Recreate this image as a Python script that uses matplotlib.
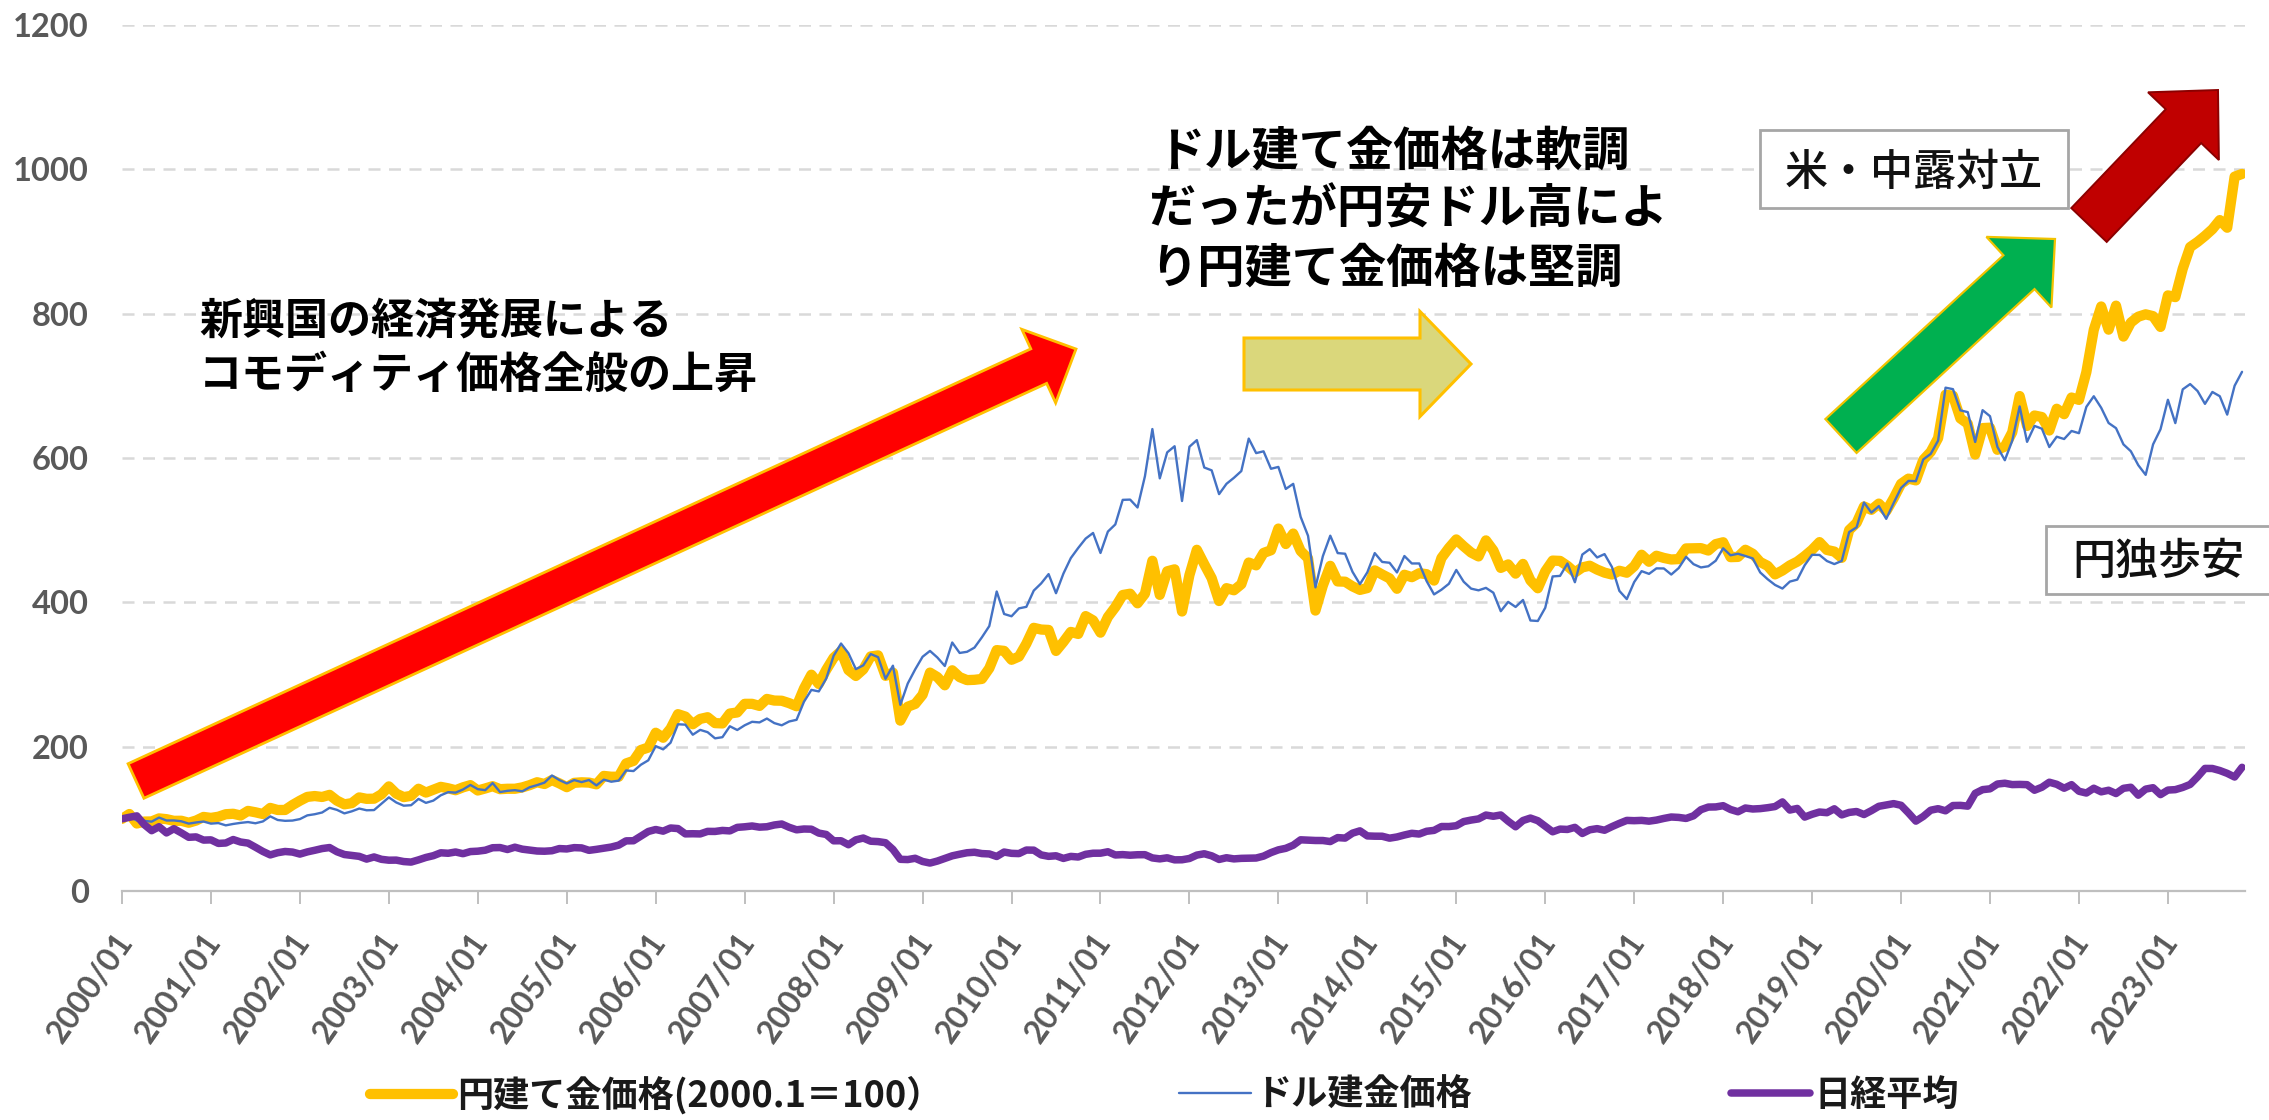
import numpy as np
import matplotlib
matplotlib.use("Agg")
import matplotlib.pyplot as plt
from matplotlib.patches import FancyArrow, Rectangle
from matplotlib.transforms import ScaledTranslation

plt.rcParams['font.family'] = ['Noto Sans CJK JP', 'DejaVu Sans']

# ---------------- data (monthly, 2000/01 - 2023/11) ----------------
# gold, USD/oz, month-end
gold_usd = [
    283.3, 293.7, 276.8, 275.1, 272.3, 288.2, 276.8, 277.0, 273.7, 264.5, 269.1, 272.7,   # 2000
    264.5, 266.7, 257.7, 263.2, 267.5, 270.6, 265.9, 273.0, 293.1, 278.8, 275.5, 276.5,   # 2001
    282.3, 296.9, 301.4, 308.2, 326.6, 318.5, 304.7, 312.8, 323.7, 316.9, 317.7, 342.8,   # 2002
    367.5, 347.5, 334.9, 336.8, 361.4, 346.0, 354.8, 375.6, 388.0, 386.3, 398.4, 416.3,   # 2003
    399.8, 395.9, 423.7, 388.5, 393.3, 395.8, 391.4, 407.3, 415.7, 425.6, 453.4, 435.6,   # 2004
    422.2, 435.5, 427.5, 435.7, 414.5, 437.1, 429.0, 433.3, 473.3, 470.8, 495.7, 513.0,   # 2005
    568.8, 556.0, 582.0, 654.5, 653.0, 613.5, 632.5, 623.5, 599.3, 603.8, 646.7, 632.0,   # 2006
    650.5, 664.2, 661.8, 677.0, 659.1, 650.5, 665.5, 672.0, 743.0, 789.5, 783.5, 833.8,   # 2007
    923.3, 971.5, 933.5, 871.0, 885.8, 930.3, 918.0, 833.0, 884.5, 730.8, 814.5, 869.8,   # 2008
    919.5, 942.5, 916.5, 883.3, 975.5, 934.5, 939.0, 955.5, 995.8, 1040.0, 1175.8, 1087.5,  # 2009
    1078.5, 1109.5, 1115.5, 1179.3, 1207.5, 1244.0, 1169.0, 1246.0, 1307.0, 1346.8, 1383.5, 1405.5,  # 2010
    1327.0, 1411.0, 1439.0, 1535.5, 1536.5, 1505.5, 1628.5, 1813.5, 1620.0, 1722.0, 1746.0, 1531.0,  # 2011
    1744.0, 1770.0, 1662.5, 1651.3, 1558.0, 1598.5, 1622.0, 1648.5, 1776.0, 1719.0, 1726.0, 1657.5,  # 2012
    1664.8, 1578.3, 1598.3, 1469.0, 1394.5, 1192.0, 1314.5, 1394.8, 1326.5, 1324.0, 1253.0, 1204.5,  # 2013
    1251.0, 1326.5, 1291.8, 1288.5, 1250.5, 1315.0, 1285.8, 1285.8, 1216.5, 1164.3, 1182.8, 1206.0,  # 2014
    1260.3, 1214.0, 1187.0, 1180.3, 1190.0, 1171.0, 1098.4, 1135.0, 1115.0, 1142.4, 1061.9, 1060.0,  # 2015
    1111.8, 1234.9, 1237.0, 1285.7, 1212.1, 1320.8, 1342.0, 1309.3, 1322.5, 1272.0, 1178.1, 1145.9,  # 2016
    1212.8, 1255.6, 1244.9, 1266.5, 1266.2, 1242.3, 1267.6, 1311.8, 1283.1, 1270.2, 1274.8, 1296.5,  # 2017
    1345.2, 1317.9, 1323.9, 1315.1, 1305.4, 1250.5, 1224.0, 1201.5, 1187.3, 1214.7, 1222.3, 1279.0,  # 2018
    1319.8, 1319.2, 1295.4, 1283.4, 1295.8, 1409.0, 1427.6, 1525.1, 1485.3, 1510.9, 1460.9, 1523.0,  # 2019
    1582.1, 1609.9, 1608.9, 1694.1, 1715.9, 1768.1, 1975.9, 1970.1, 1886.9, 1879.9, 1762.8, 1887.6,  # 2020
    1863.9, 1743.4, 1691.1, 1767.7, 1902.1, 1763.2, 1825.8, 1814.9, 1742.8, 1783.4, 1774.3, 1805.9,  # 2021
    1797.2, 1900.7, 1942.2, 1896.9, 1837.2, 1817.0, 1753.3, 1726.3, 1671.8, 1633.6, 1753.3, 1812.4,  # 2022
    1928.4, 1836.7, 1969.3, 1990.0, 1962.7, 1912.3, 1959.0, 1942.3, 1870.1, 1983.5, 2038.1,          # 2023
]

# USD/JPY, month-end
usdjpy = [
    107.3, 110.4, 102.7, 106.3, 107.6, 106.1, 109.3, 106.7, 108.1, 108.7, 110.3, 114.4,   # 2000
    116.4, 117.3, 125.5, 123.6, 118.9, 124.7, 124.7, 118.8, 119.4, 122.4, 123.9, 131.0,   # 2001
    134.7, 133.5, 132.7, 128.5, 124.0, 119.5, 119.8, 118.3, 121.8, 122.5, 122.4, 118.8,   # 2002
    119.9, 118.0, 118.1, 119.0, 119.2, 119.8, 120.3, 116.8, 111.5, 109.9, 109.6, 107.1,   # 2003
    105.9, 109.1, 104.2, 110.4, 109.5, 108.8, 111.5, 109.5, 110.2, 105.9, 103.1, 104.1,   # 2004
    103.6, 104.6, 107.1, 104.8, 108.4, 110.9, 112.2, 111.1, 113.5, 116.4, 119.8, 117.8,   # 2005
    117.2, 116.1, 117.5, 113.8, 112.5, 114.5, 114.6, 117.4, 118.0, 116.9, 115.6, 119.0,   # 2006
    121.2, 118.7, 117.8, 119.5, 121.7, 123.2, 118.9, 115.8, 114.8, 115.4, 111.3, 111.7,   # 2007
    106.4, 104.0, 99.7, 104.0, 105.4, 106.2, 108.1, 108.8, 104.0, 98.2, 95.3, 90.6,       # 2008
    89.9, 97.6, 98.3, 98.1, 95.3, 96.4, 94.6, 93.1, 89.7, 90.2, 86.3, 93.0,               # 2009
    90.3, 89.0, 93.4, 94.0, 91.2, 88.4, 86.5, 84.2, 83.5, 80.4, 83.7, 81.1,               # 2010
    82.0, 81.8, 83.1, 81.2, 81.5, 80.5, 76.9, 76.7, 77.0, 78.2, 77.6, 76.9,               # 2011
    76.3, 81.2, 82.8, 79.8, 78.4, 79.8, 78.1, 78.4, 77.9, 79.8, 82.5, 86.6,               # 2012
    91.7, 92.6, 94.2, 97.5, 100.5, 99.1, 97.9, 98.2, 98.3, 98.4, 102.4, 105.3,            # 2013
    102.0, 101.8, 103.2, 102.2, 101.8, 101.3, 102.8, 104.1, 109.7, 112.3, 118.6, 119.8,   # 2014
    117.5, 119.6, 120.1, 119.4, 124.1, 122.5, 123.9, 121.2, 119.9, 120.6, 123.2, 120.3,   # 2015
    121.1, 112.7, 112.4, 106.5, 110.7, 103.2, 102.1, 103.4, 101.4, 104.8, 114.5, 117.0,   # 2016
    112.8, 112.8, 111.4, 111.5, 110.8, 112.4, 110.3, 110.0, 112.5, 113.7, 112.5, 112.7,   # 2017
    109.2, 106.7, 106.3, 109.3, 108.8, 110.8, 111.9, 111.0, 113.7, 112.9, 113.5, 110.3,   # 2018
    108.9, 111.4, 110.9, 111.4, 108.3, 107.9, 108.6, 106.2, 108.1, 108.0, 109.5, 108.6,   # 2019
    108.4, 107.9, 107.5, 107.2, 107.8, 107.9, 105.8, 105.9, 105.5, 104.7, 104.3, 103.3,   # 2020
    104.7, 106.6, 110.7, 109.3, 109.6, 111.1, 109.7, 110.0, 111.3, 113.9, 113.2, 115.1,   # 2021
    115.1, 115.0, 121.7, 129.8, 128.7, 135.7, 133.2, 138.7, 144.7, 148.7, 138.1, 131.1,   # 2022
    130.1, 136.2, 133.1, 136.3, 139.3, 144.3, 142.3, 145.5, 149.4, 151.7, 148.2,          # 2023
]

# Nikkei 225, month-end
nikkei = [
    19540, 19960, 20337, 17974, 16332, 17411, 15727, 16861, 15747, 14539, 14649, 13786,  # 2000
    13844, 12884, 12999, 13934, 13262, 12969, 11861, 10714, 9775, 10367, 10697, 10543,   # 2001
    9998, 10588, 11025, 11493, 11764, 10622, 9878, 9619, 9383, 8640, 9216, 8579,         # 2002
    8340, 8363, 7973, 7831, 8425, 9083, 9563, 10344, 10219, 10560, 10101, 10677,         # 2003
    10784, 11042, 11715, 11762, 11236, 11859, 11326, 11082, 10824, 10771, 10899, 11489,  # 2004
    11388, 11741, 11669, 11009, 11277, 11584, 11900, 12414, 13574, 13607, 14872, 16111,  # 2005
    16650, 16206, 17060, 16906, 15467, 15505, 15457, 16141, 16128, 16399, 16274, 17226,  # 2006
    17383, 17604, 17288, 17400, 17876, 18138, 17249, 16569, 16786, 16738, 15681, 15308,  # 2007
    13592, 13604, 12526, 13850, 14339, 13481, 13377, 13073, 11260, 8577, 8512, 8860,     # 2008
    7994, 7568, 8110, 8828, 9523, 9958, 10357, 10493, 10133, 10035, 9346, 10546,         # 2009
    10198, 10126, 11090, 11057, 9769, 9383, 9537, 8824, 9369, 9202, 9937, 10229,         # 2010
    10238, 10624, 9755, 9850, 9694, 9816, 9833, 8955, 8700, 8988, 8435, 8455,            # 2011
    8803, 9723, 10084, 9521, 8543, 9007, 8695, 8840, 8870, 8928, 9446, 10395,            # 2012
    11139, 11559, 12398, 13861, 13775, 13677, 13668, 13389, 14456, 14328, 15662, 16291,  # 2013
    14915, 14841, 14828, 14304, 14632, 15162, 15621, 15425, 16174, 16414, 17460, 17451,  # 2014
    17674, 18798, 19207, 19520, 20563, 20236, 20585, 18890, 17388, 19083, 19747, 19034,  # 2015
    17518, 16027, 16759, 16666, 17235, 15576, 16569, 16887, 16450, 17425, 18308, 19114,  # 2016
    19041, 19119, 18909, 19197, 19651, 20033, 19925, 19646, 20356, 22012, 22725, 22765,  # 2017
    23098, 22068, 21454, 22468, 22202, 22305, 22554, 22865, 24120, 21920, 22351, 20015,  # 2018
    20773, 21385, 21206, 22259, 20601, 21276, 21522, 20704, 21756, 22927, 23294, 23657,  # 2019
    23205, 21143, 18917, 20194, 21878, 22288, 21710, 23140, 23185, 22977, 26434, 27444,  # 2020
    27663, 28966, 29179, 28813, 28860, 28792, 27284, 28090, 29453, 28893, 27822, 28792,  # 2021
    27002, 26527, 27821, 26848, 27280, 26393, 27802, 28092, 25937, 27587, 27969, 26095,  # 2022
    27327, 27446, 28041, 28856, 30888, 33189, 33172, 32619, 31858, 30859, 33487,         # 2023
]

tick_years = list(range(2000, 2024))
tick_labels = [f"{y}/01" for y in tick_years]
series_labels = ["円建て金価格(2000.1＝100）", "ドル建金価格", "日経平均"]
y_ticks = [0, 200, 400, 600, 800, 1000, 1200]

gold_usd = np.array(gold_usd, dtype=float)
usdjpy = np.array(usdjpy, dtype=float)
nikkei = np.array(nikkei, dtype=float)

# indices, 2000/01 = 100
gold_jpy = gold_usd * usdjpy
jpy_idx = gold_jpy / gold_jpy[0] * 100
usd_idx = gold_usd / gold_usd[0] * 100
nk_idx = nikkei / nikkei[0] * 100

# ---------------- figure ----------------
W, H, DPI = 2269, 1120, 100
fig = plt.figure(figsize=(W / DPI, H / DPI), dpi=DPI)
fig.patch.set_facecolor("white")

AX_L, AX_R, AX_T, AX_B = 122, 2245, 25, 891
ax = fig.add_axes([AX_L / W, 1 - AX_B / H, (AX_R - AX_L) / W, (AX_B - AX_T) / H])

x = np.arange(len(gold_usd))
l_gold, = ax.plot(x, jpy_idx, color="#FFC000", lw=7.4, solid_joinstyle="round",
                  solid_capstyle="round", zorder=3)
l_usd, = ax.plot(x, usd_idx, color="#4472C4", lw=1.7, solid_joinstyle="round",
                 solid_capstyle="round", zorder=4)
l_nk, = ax.plot(x, nk_idx, color="#7030A0", lw=5.4, solid_joinstyle="round",
                solid_capstyle="round", zorder=5)

ax.set_xlim(0, 286.4)
ax.set_ylim(0, 1200)
ax.set_yticks(y_ticks)
ax.set_axisbelow(True)
ax.yaxis.grid(True, color="#D9D9D9", lw=1.8, linestyle=(0, (4.8, 3.4)))
for s in ("left", "right", "top"):
    ax.spines[s].set_visible(False)
ax.spines["bottom"].set_color("#BFBFBF")
ax.spines["bottom"].set_linewidth(1.6)

tick_pos = [(y - 2000) * 12 for y in tick_years]
ax.set_xticks(tick_pos)
ax.set_xticklabels(tick_labels)
ax.tick_params(axis="x", length=9.5, width=1.4, color="#BFBFBF", direction="out",
               pad=17, labelsize=23, labelcolor="#595959")
ax.tick_params(axis="y", length=0, pad=24, labelsize=23.5, labelcolor="#595959")
for lbl in ax.get_xticklabels():
    lbl.set_rotation(55)
    lbl.set_ha("right")
    lbl.set_va("top")
    lbl.set_fontfamily(["Lato", "DejaVu Sans"])
    lbl.set_fontweight("bold")
    lbl.set_transform(lbl.get_transform() + ScaledTranslation(16 / DPI, 0, fig.dpi_scale_trans))
for lbl in ax.get_yticklabels():
    lbl.set_fontfamily(["Lato", "DejaVu Sans"])
    lbl.set_fontweight("bold")

# ---------------- legend ----------------
leg_y = 1 - 1095 / H
for handle, label, x0, hl in [(l_gold, series_labels[0], 370, 2.3),
                              (l_usd, series_labels[1], 1179, 2.0),
                              (l_nk, series_labels[2], 1731, 2.2)]:
    fig.legend([handle], [label], loc="center left", bbox_to_anchor=(x0 / W, leg_y),
               frameon=False, borderpad=0, borderaxespad=0, handlelength=hl,
               handletextpad=0.12, labelcolor="#1A1A1A",
               prop={"size": 26, "weight": "bold"})

# ---------------- annotations (pixel overlay) ----------------
ov = fig.add_axes([0, 0, 1, 1], zorder=10)
ov.set_xlim(0, W)
ov.set_ylim(H, 0)
ov.axis("off")
ov.patch.set_alpha(0)


def arrow(tail, tip, width, hw, hl, fc, ec, lw):
    ov.add_patch(FancyArrow(tail[0], tail[1], tip[0] - tail[0], tip[1] - tail[1],
                            width=width, head_width=hw, head_length=hl,
                            length_includes_head=True, fc=fc, ec=ec, lw=lw,
                            joinstyle="miter"))


arrow((136, 781), (1076, 349), 38, 81, 41, "#FF0000", "#FFC000", 2.0)
arrow((1244, 364), (1471, 364), 52, 105, 51, "#DAD77B", "#FFC000", 2.2)
arrow((1841, 436), (2055, 239), 46, 96, 49, "#00B050", "#F2C200", 1.6)
arrow((2089, 225), (2218, 90), 49, 98, 50, "#C00000", "#8B0000", 1.4)

bold = dict(color="black", fontweight="bold", va="center", ha="left")
ov.text(199, 321, "新興国の経済発展による", fontsize=31, **bold)
ov.text(199, 375, "コモディティ価格全般の上昇", fontsize=31, **bold)
ov.text(1157, 152, "ドル建て金価格は軟調", fontsize=34, **bold)
ov.text(1148, 210, "だったが円安ドル高によ", fontsize=34, **bold)
ov.text(1150, 269, "り円建て金価格は堅調", fontsize=34, **bold)

ov.add_patch(Rectangle((1760, 130), 308, 78, fc="white", ec="#A6A6A6", lw=2))
ov.text(1914, 172, "米・中露対立", fontsize=31, color="#111111", ha="center",
        va="center", fontweight="medium")
ov.add_patch(Rectangle((2046, 526), 240, 68, fc="white", ec="#A6A6A6", lw=2))
ov.text(2158, 561, "円独歩安", fontsize=31, color="#111111", ha="center",
        va="center", fontweight="medium")

fig.savefig("out.png", dpi=DPI, facecolor="white")
